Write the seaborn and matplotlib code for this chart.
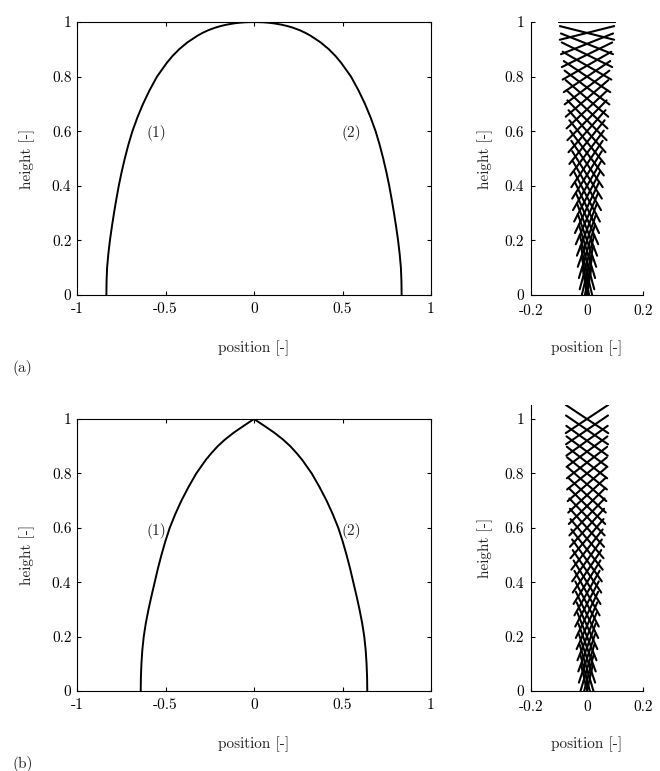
import matplotlib
matplotlib.use("Agg")
import matplotlib.pyplot as plt
import numpy as np
import pandas as pd
import seaborn as sns

# Curve (1) of each case; curve (2) is its mirror image
y_curve_a = [0.0, 0.05, 0.1, 0.15, 0.2, 0.25, 0.3, 0.35, 0.4, 0.45, 0.5, 0.55, 0.6,
             0.65, 0.7, 0.75, 0.8, 0.85, 0.875, 0.9, 0.925, 0.95, 0.96, 0.97, 0.98,
             0.985, 0.99, 0.995, 0.9975, 0.999, 1.0]
x_curve_a = [-0.834, -0.833, -0.830, -0.823, -0.814, -0.803, -0.791, -0.778, -0.764,
             -0.748, -0.730, -0.710, -0.687, -0.659, -0.627, -0.590, -0.548, -0.493,
             -0.461, -0.423, -0.377, -0.319, -0.291, -0.258, -0.216, -0.189, -0.157,
             -0.113, -0.080, -0.051, 0.0]

y_curve_b = [0.0, 0.05, 0.1, 0.15, 0.2, 0.25, 0.3, 0.35, 0.4, 0.45, 0.5, 0.55, 0.6,
             0.65, 0.7, 0.75, 0.8, 0.85, 0.875, 0.9, 0.925, 0.95, 0.975, 1.0]
x_curve_b = [-0.640, -0.639, -0.636, -0.631, -0.623, -0.611, -0.596, -0.579, -0.561,
             -0.543, -0.523, -0.501, -0.476, -0.445, -0.410, -0.370, -0.326, -0.272,
             -0.240, -0.205, -0.163, -0.114, -0.058, 0.0]

# Crossing segments on the right: centre height, half width, half rise
levels = [0.00, 0.04, 0.08, 0.12, 0.16, 0.20, 0.24, 0.28, 0.32, 0.36, 0.40, 0.44, 0.48,
          0.52, 0.56, 0.60, 0.64, 0.68, 0.72, 0.76, 0.80, 0.84, 0.88, 0.92, 0.96, 1.00]
half_w_a = [0.016, 0.019, 0.023, 0.026, 0.029, 0.033, 0.036, 0.040, 0.043, 0.046, 0.050,
            0.053, 0.056, 0.060, 0.063, 0.066, 0.070, 0.073, 0.076, 0.080, 0.083, 0.087,
            0.090, 0.093, 0.097, 0.100]
half_h_a = [0.101, 0.101, 0.100, 0.099, 0.098, 0.097, 0.096, 0.094, 0.093, 0.091, 0.089,
            0.087, 0.085, 0.082, 0.080, 0.077, 0.073, 0.070, 0.067, 0.062, 0.057, 0.051,
            0.045, 0.038, 0.025, 0.0]
half_w_b = [0.020, 0.023, 0.026, 0.029, 0.031, 0.034, 0.037, 0.040, 0.042, 0.045, 0.048,
            0.051, 0.053, 0.056, 0.059, 0.061, 0.063, 0.065, 0.067, 0.069, 0.071, 0.072,
            0.073, 0.074, 0.075, 0.076]
half_h_b = [0.092, 0.091, 0.090, 0.089, 0.088, 0.087, 0.086, 0.085, 0.083, 0.082, 0.080,
            0.078, 0.077, 0.074, 0.072, 0.070, 0.068, 0.066, 0.064, 0.062, 0.059, 0.058,
            0.056, 0.055, 0.053, 0.052]

left_xticks = [-1, -0.5, 0, 0.5, 1]
left_xticklabels = ["-1", "-0.5", "0", "0.5", "1"]
right_xticks = [-0.2, 0, 0.2]
right_xticklabels = ["-0.2", "0", "0.2"]
yticks = [0, 0.2, 0.4, 0.6, 0.8, 1]
yticklabels = ["0", "0.2", "0.4", "0.6", "0.8", "1"]

FS = 11

sns.set_theme(style="ticks")
plt.rcParams["font.family"] = ["cmr10", "DejaVu Serif"]
plt.rcParams["axes.unicode_minus"] = False
plt.rcParams["font.size"] = FS
plt.rcParams["axes.linewidth"] = 0.8
plt.rcParams["axes.edgecolor"] = "black"


def curve_frame(xs, ys):
    n = len(xs)
    left = pd.DataFrame({"x": xs, "y": ys, "curve": "1", "order": range(n)})
    right = pd.DataFrame({"x": [-v for v in xs], "y": ys, "curve": "2", "order": range(n)})
    return pd.concat([left, right], ignore_index=True)


def segment_frame(ys, hw, hh):
    rows = []
    for k, (yc, w, h) in enumerate(zip(ys, hw, hh)):
        rows.append({"seg": 2 * k, "x": -w, "y": yc - h})
        rows.append({"seg": 2 * k, "x": w, "y": yc + h})
        rows.append({"seg": 2 * k + 1, "x": -w, "y": yc + h})
        rows.append({"seg": 2 * k + 1, "x": w, "y": yc - h})
    return pd.DataFrame(rows)


def style_left(ax, txt_y):
    ax.set_xlim(-1, 1)
    ax.set_ylim(0, 1)
    ax.set_xticks(left_xticks)
    ax.set_xticklabels(left_xticklabels)
    ax.set_yticks(yticks)
    ax.set_yticklabels(yticklabels)
    ax.tick_params(direction="in", top=True, right=True, length=3, width=0.8,
                   labelsize=FS, colors="black")
    ax.tick_params(axis="x", pad=5)
    ax.tick_params(axis="y", pad=4)
    ax.set_xlabel("position [-]", fontsize=FS, labelpad=18)
    ax.set_ylabel("height [-]", fontsize=FS, labelpad=12)
    ax.text(-0.55, txt_y, "(1)", ha="center", va="center", fontsize=FS)
    ax.text(0.55, txt_y, "(2)", ha="center", va="center", fontsize=FS)
    for s in ax.spines.values():
        s.set_visible(True)


def style_right(ax, ytop):
    ax.set_xlim(-0.2, 0.2)
    ax.set_ylim(0, ytop)
    ax.set_xticks(right_xticks)
    ax.set_xticklabels(right_xticklabels)
    ax.set_yticks(yticks)
    ax.set_yticklabels(yticklabels)
    ax.tick_params(direction="in", length=3, width=0.8, labelsize=FS, colors="black")
    ax.tick_params(axis="x", pad=7)
    ax.tick_params(axis="y", pad=5)
    ax.set_xlabel("position [-]", fontsize=FS, labelpad=16)
    ax.set_ylabel("height [-]", fontsize=FS, labelpad=8)
    ax.spines["top"].set_visible(False)
    ax.spines["right"].set_visible(False)


fig = plt.figure(figsize=(6.6, 7.71), dpi=100)

W, H = 660, 771
ax_a = fig.add_axes([77 / W, 1 - 295 / H, 354 / W, 273 / H])
ax_a_r = fig.add_axes([531 / W, 1 - 295 / H, 112 / W, 273 / H])
ax_b = fig.add_axes([77 / W, 1 - 691 / H, 354 / W, 272 / H])
ax_b_r = fig.add_axes([531 / W, 1 - 691 / H, 112 / W, 1.05 * 272 / H])

for ax, xs, ys in [(ax_a, x_curve_a, y_curve_a), (ax_b, x_curve_b, y_curve_b)]:
    sns.lineplot(data=curve_frame(xs, ys), x="x", y="y", units="curve",
                 estimator=None, sort=False, color="black", linewidth=1.4, ax=ax)

for ax, hw, hh in [(ax_a_r, half_w_a, half_h_a), (ax_b_r, half_w_b, half_h_b)]:
    sns.lineplot(data=segment_frame(levels, hw, hh), x="x", y="y", units="seg",
                 estimator=None, sort=False, color="black", linewidth=1.5, ax=ax)

style_left(ax_a, 0.593)
style_left(ax_b, 0.59)
style_right(ax_a_r, 1.0)
style_right(ax_b_r, 1.05)

fig.text(12 / W, 1 - 368 / H, "(a)", ha="left", va="center", fontsize=FS)
fig.text(12 / W, 1 - 764 / H, "(b)", ha="left", va="center", fontsize=FS)

fig.savefig("out.png", dpi=100)
